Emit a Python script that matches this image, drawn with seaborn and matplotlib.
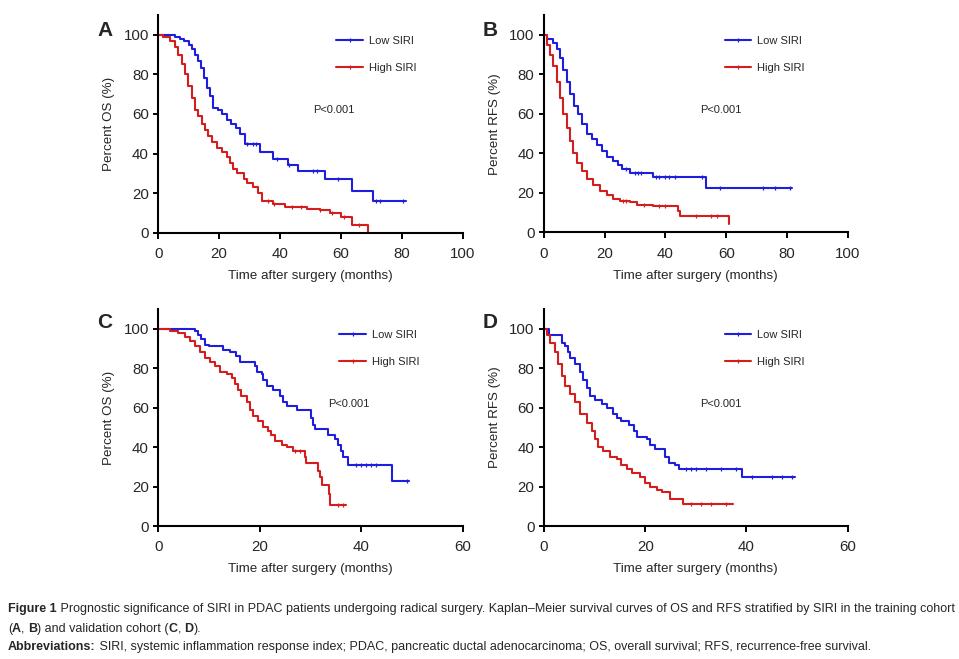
import matplotlib

matplotlib.use("Agg")

import matplotlib.pyplot as plt
import numpy as np
import pandas as pd
import seaborn as sns
from matplotlib.lines import Line2D

W, H = 959, 659
BLUE = "#1E1EDC"
RED = "#D41E1E"

# step curves: time (months) where the survival (%) changes to the given value
A_LOW_T = [0, 5.5, 7, 8.5, 10, 11, 12, 13, 14, 15, 16, 17, 18, 19.5, 21, 22.5, 24, 25.5, 27, 28.5, 33.4, 37.8, 42.7, 46, 54.8, 63.6, 70.5, 81.4]
A_LOW_S = [100, 99, 98, 97, 95, 93, 90, 87, 83, 78, 73, 69, 63, 62, 60, 57, 55, 53, 50, 45, 41, 37, 34, 31, 27, 21, 16, 16]
A_HIGH_T = [0, 1.6, 3.8, 5.5, 6.6, 7.7, 8.8, 9.9, 11, 12, 13.2, 14.2, 15.3, 16.4, 17.5, 19.2, 20.8, 22.5, 23.6, 24.7, 25.8, 28, 29, 31.2, 32.9, 34, 37.8, 41.6, 48.8, 53, 56.4, 60.2, 63.6, 69]
A_HIGH_S = [100, 99, 97, 94, 90, 85, 80, 74, 68, 62, 59, 55, 52, 49, 46, 43, 41, 38, 35, 32, 30, 27, 25, 23, 20, 16, 14.5, 13, 12, 11.5, 10, 8, 4, 0]

B_LOW_T = [0, 0.9, 3, 4.2, 5.3, 6.4, 7.5, 8.6, 9.9, 11.3, 12.6, 14, 15.7, 17.3, 19, 20.6, 22.8, 24.5, 25.6, 28.3, 36, 53.3, 81.6]
B_LOW_S = [100, 98, 96, 93, 88, 82, 76, 70, 64, 60, 55, 50, 47, 44, 41, 38, 36, 34, 32, 30, 28, 22.5, 22.5]
B_HIGH_T = [0, 0.9, 2, 3, 4.2, 5.3, 6.4, 7.5, 8.6, 9.7, 10.8, 12.4, 14, 16.2, 18.4, 20.6, 22.8, 25, 28.3, 30.5, 36, 44.2, 44.8, 45.3, 60.8, 61]
B_HIGH_S = [100, 95, 90, 84, 76, 68, 60, 53, 46, 40, 35, 31, 27, 24, 21, 19, 17, 16, 15.5, 14, 13.5, 11, 8.5, 8, 4, 4]

C_LOW_T = [0, 7.2, 7.9, 8.5, 9.2, 9.9, 10.5, 12.8, 14.1, 15.4, 16.1, 19, 19.4, 20.4, 20.7, 21.4, 22.7, 24, 24.6, 25.3, 27.3, 30.2, 30.6, 30.9, 33.5, 34.8, 35.5, 36.1, 36.5, 37.5, 46, 49.5]
C_LOW_S = [100, 99, 97, 95, 92, 91, 91, 89, 88, 86, 83, 81, 78, 77, 74, 71, 69, 66, 63, 61, 59, 55, 51, 49, 46, 44, 41, 38, 35, 31, 23, 23]
C_HIGH_T = [0, 2.3, 3.9, 5.3, 6.2, 7.2, 8.2, 9.2, 10.2, 11.2, 12.2, 13.5, 14.5, 15.1, 15.8, 16.4, 17.4, 18.1, 18.7, 19.7, 20.7, 21.7, 22.3, 23, 24.3, 25.3, 26.6, 28.9, 29.2, 31.5, 31.9, 32.2, 33.6, 33.8, 37.1]
C_HIGH_S = [100, 99, 98, 96, 94, 91, 88, 85, 83, 81, 78, 77, 75, 72, 69, 66, 63, 59, 56, 53, 50, 48, 46, 43, 41, 40, 38, 35, 32, 28, 25, 21, 16, 10.5, 10.5]

D_LOW_T = [0, 0.9, 3.5, 4.2, 4.8, 5.1, 6.1, 7.1, 7.8, 8.4, 9.1, 10.1, 11.4, 12.4, 13.7, 14.4, 15.3, 16.7, 17.7, 18.3, 20.3, 20.9, 21.9, 23.9, 24.6, 25.9, 26.7, 39.1, 49.6]
D_LOW_S = [100, 97, 93, 91, 88, 85, 82, 78, 74, 70, 66, 64, 62, 60, 57, 55, 53, 51, 48, 45, 44, 41, 39, 35, 32, 31, 29, 25, 25]
D_HIGH_T = [0, 0.5, 1.2, 2.2, 2.8, 3.5, 4.2, 5.1, 6.1, 7.1, 8.4, 9.4, 10.1, 10.7, 11.7, 13, 14.4, 15.3, 16.3, 17.3, 19, 20, 20.9, 22.3, 23.3, 24.9, 27.5, 37.4]
D_HIGH_S = [100, 97, 93, 88, 82, 76, 71, 67, 63, 57, 52, 48, 44, 40, 38, 35, 34, 31, 29, 27, 25, 22, 20, 18, 17, 13.5, 11, 11]

# censored observations (months)
A_LOW_CENS = [29, 31, 32, 39, 43, 51, 52, 59, 71.5, 73, 80.5]
A_HIGH_CENS = [36, 38, 44, 47, 53, 57, 61, 66]
B_LOW_CENS = [27, 30, 31, 32, 37, 38, 40, 41, 43, 52, 58, 72, 76, 81]
B_HIGH_CENS = [26, 27, 33, 38, 40, 50, 55, 57]
C_LOW_CENS = [39, 40, 41, 42, 43, 49]
C_HIGH_CENS = [27, 28, 35.5, 36.5]
D_LOW_CENS = [28, 29, 30, 32, 35, 38, 41, 45, 47, 49]
D_HIGH_CENS = [29, 31, 33, 36]

PANELS = [
    dict(letter="A", ylabel="Percent OS (%)", xmax=100, xticks=[0, 20, 40, 60, 80, 100],
         low=(A_LOW_T, A_LOW_S, A_LOW_CENS), high=(A_HIGH_T, A_HIGH_S, A_HIGH_CENS),
         rect=(158.3, 462.6, 232.7, 15), legend=(0.585, 0.905), ptext=(51, 62), letter_y=30),
    dict(letter="B", ylabel="Percent RFS (%)", xmax=100, xticks=[0, 20, 40, 60, 80, 100],
         low=(B_LOW_T, B_LOW_S, B_LOW_CENS), high=(B_HIGH_T, B_HIGH_S, B_HIGH_CENS),
         rect=(544, 847.7, 232.3, 15), legend=(0.595, 0.905), ptext=(51.4, 62), letter_y=30),
    dict(letter="C", ylabel="Percent OS (%)", xmax=60, xticks=[0, 20, 40, 60],
         low=(C_LOW_T, C_LOW_S, C_LOW_CENS), high=(C_HIGH_T, C_HIGH_S, C_HIGH_CENS),
         rect=(158.3, 462.6, 526, 309), legend=(0.595, 0.905), ptext=(33.5, 62), letter_y=323),
    dict(letter="D", ylabel="Percent RFS (%)", xmax=60, xticks=[0, 20, 40, 60],
         low=(D_LOW_T, D_LOW_S, D_LOW_CENS), high=(D_HIGH_T, D_HIGH_S, D_HIGH_CENS),
         rect=(544, 847.7, 526, 309), legend=(0.595, 0.905), ptext=(30.8, 62), letter_y=323),
]

CAPTION = [
    (609, [("Figure 1", "bold"), (" Prognostic significance of SIRI in PDAC patients undergoing radical surgery. Kaplan\u2013Meier survival curves of OS and RFS stratified by SIRI in the training cohort", "normal")]),
    (629, [("(", "normal"), ("A", "bold"), (", ", "normal"), ("B", "bold"), (") and validation cohort (", "normal"), ("C", "bold"), (", ", "normal"), ("D", "bold"), (").", "normal")]),
    (647, [("Abbreviations:", "bold"), (" SIRI, systemic inflammation response index; PDAC, pancreatic ductal adenocarcinoma; OS, overall survival; RFS, recurrence-free survival.", "normal")]),
]


def step_value(times, surv, t):
    idx = np.searchsorted(np.asarray(times), t, side="right") - 1
    return surv[max(idx, 0)]


def draw_curve(ax, times, surv, cens, color, label):
    df = pd.DataFrame({"t": times, "s": surv})
    sns.lineplot(data=df, x="t", y="s", ax=ax, color=color, linewidth=1.5,
                 drawstyle="steps-post", estimator=None, label=label, legend=False)
    ax.plot(cens, [step_value(times, surv, c) for c in cens], ls="none", marker="|",
            ms=3.5, mew=0.9, color=color)


def draw_panel(fig, p):
    x0, x1, ybot, ytop = p["rect"]
    ax = fig.add_axes([x0 / W, 1 - ybot / H, (x1 - x0) / W, (ybot - ytop) / H])
    draw_curve(ax, *p["low"], BLUE, "Low SIRI")
    draw_curve(ax, *p["high"], RED, "High SIRI")
    ax.set_xlim(0, p["xmax"])
    ax.set_ylim(0, 110)
    ax.set_xticks(p["xticks"])
    ax.set_yticks([0, 20, 40, 60, 80, 100])
    ax.set_xlabel("Time after surgery (months)", fontsize=9.6, labelpad=6.5)
    ax.set_ylabel(p["ylabel"], fontsize=9.6, labelpad=6)
    ax.tick_params(axis="x", labelsize=10.8, length=4.3, width=1.4, direction="out", pad=6, color="black")
    ax.tick_params(axis="y", labelsize=10.8, length=3.6, width=1.4, direction="out", pad=3.2, color="black")
    for side in ("left", "bottom"):
        ax.spines[side].set_linewidth(1.5)
        ax.spines[side].set_color("black")
    sns.despine(ax=ax)
    handles = [
        Line2D([], [], color=BLUE, lw=1.5, marker="|", ms=3.5, mew=0.9),
        Line2D([], [], color=RED, lw=1.5, marker="|", ms=3.5, mew=0.9),
    ]
    ax.legend(handles, ["Low SIRI", "High SIRI"], loc="upper left", bbox_to_anchor=p["legend"],
              frameon=False, fontsize=8, handlelength=2.4, handletextpad=0.5, labelspacing=1.55,
              borderaxespad=0, borderpad=0, numpoints=1)
    ax.text(*p["ptext"], "P<0.001", fontsize=8, ha="left", va="center")
    fig.text((x0 - 61) / W, 1 - p["letter_y"] / H, p["letter"], fontsize=15, fontweight="bold",
             ha="left", va="center")


def draw_caption(fig):
    renderer = fig.canvas.get_renderer()
    for y, segments in CAPTION:
        x = 8
        for text, weight in segments:
            t = fig.text(x / W, 1 - y / H, text, fontsize=9.0, fontweight=weight, ha="left",
                         va="center")
            x = t.get_window_extent(renderer).x1


def main():
    sns.set_theme(style="ticks")
    plt.rcParams["font.family"] = ["Liberation Sans", "DejaVu Sans"]
    fig = plt.figure(figsize=(W / 100, H / 100), dpi=100)
    for p in PANELS:
        draw_panel(fig, p)
    draw_caption(fig)
    fig.savefig("out.png", dpi=100)


if __name__ == "__main__":
    main()
